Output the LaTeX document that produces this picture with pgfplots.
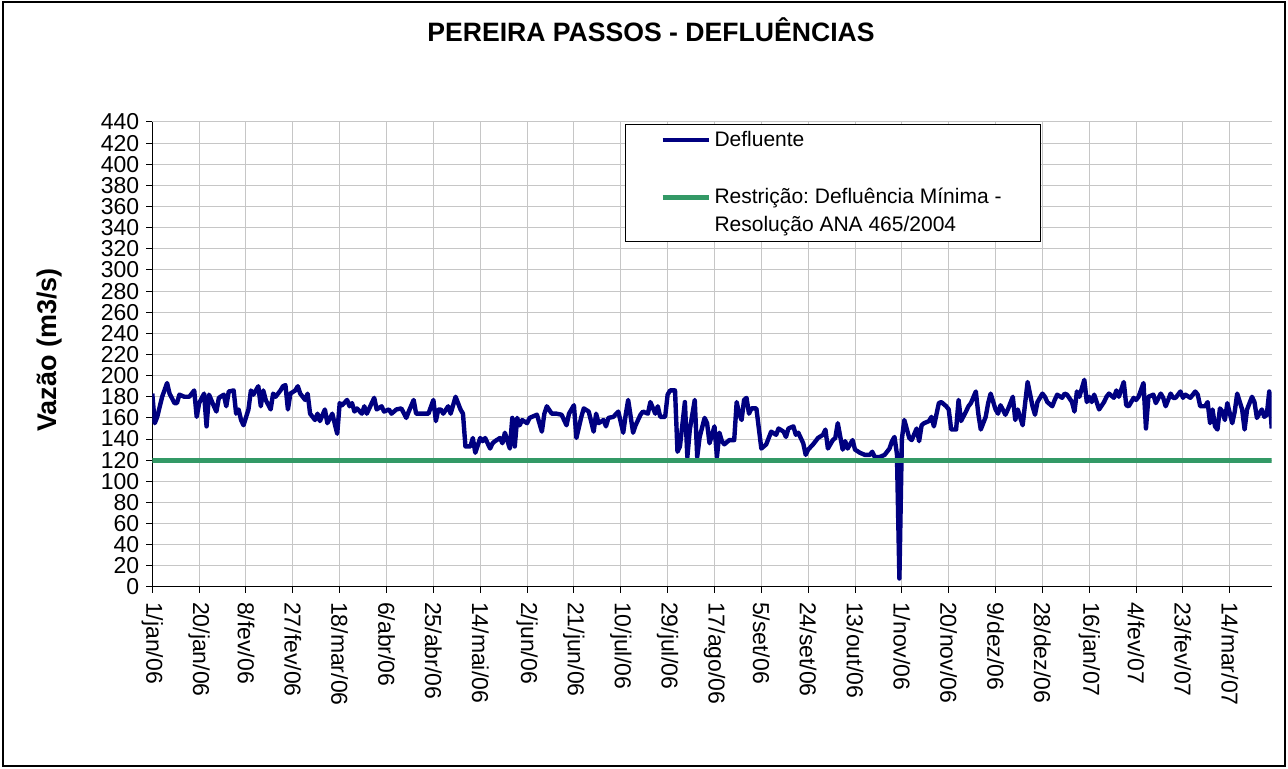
\documentclass[border=0pt]{standalone}
\usepackage{fontspec}
\setmainfont{Liberation Sans}
\usepackage{pgfplots}
\pgfplotsset{compat=1.18}
\definecolor{defl}{RGB}{0,0,128}
\definecolor{restr}{RGB}{51,153,102}
\frenchspacing
\begin{document}
\begin{tikzpicture}
\path (-76.15pt,-91pt) rectangle (567.85pt,293.5pt);
\draw[black, line width=0.6pt] (-74.65pt,-89.5pt) rectangle (566.35pt,292.5pt);
\begin{axis}[
  at={(0pt,0pt)}, anchor=south west,
  scale only axis, width=559.7pt, height=232.5pt,
  xmin=0, xmax=454, ymin=0, ymax=440,
  axis lines*=left,
  axis line style={black, line width=0.5pt},
  tick align=outside, major tick length=3pt,
  tick style={black, line width=0.5pt},
  xtick={0,19,...,437},
  xticklabels={1/jan/06,20/jan/06,8/fev/06,27/fev/06,18/mar/06,6/abr/06,25/abr/06,14/mai/06,2/jun/06,21/jun/06,10/jul/06,29/jul/06,17/ago/06,5/set/06,24/set/06,13/out/06,1/nov/06,20/nov/06,9/dez/06,28/dez/06,16/jan/07,4/fev/07,23/fev/07,14/mar/07},
  ytick={0,20,...,440},
  xticklabel style={rotate=-90, anchor=west},
  xticklabel shift=1pt,
  tick label style={font=\fontsize{11.5}{12}\selectfont},
  /pgf/number format/assume math mode=true,
  grid=major,
  major grid style={gray!45, line width=0.5pt},
  title={PEREIRA PASSOS - DEFLUÊNCIAS},
  every axis title/.style={at={(axis description cs:0.4455,1.1978)}, anchor=center, font=\bfseries\fontsize{13.3}{15}\selectfont},
  ylabel={Vazão (m3/s)},
  every axis y label/.style={at={(axis description cs:-0.0914,0.51)}, rotate=90, anchor=center, font=\bfseries\fontsize{13.5}{15}\selectfont},
  legend style={at={(axis description cs:0.4223,0.9957)}, anchor=north west, draw=black, line width=0.5pt,
    inner xsep=15pt, inner ysep=3.2pt, row sep=19pt, column sep=0pt,
    font=\fontsize{10.5}{12}\selectfont,
    nodes={inner sep=0pt, align=left}},
  legend cell align=left,
]
\addplot[defl, line width=2.2pt, line join=round,
  legend image code/.code={\path[draw=none] (-3.5pt,0pt) -- (26pt,0pt); \draw[defl, line width=2.2pt] (0pt,0pt) -- (23pt,0pt);}]
coordinates {
(0,183) (1,155) (2,161) (4,180) (6,193) (7,183) (9,174) (10,174) (11,182) (13,180)
(15,180) (17,186) (18,161) (19,174) (21,183) (22,152) (23,182) (25,171) (26,166) (27,179)
(29,182) (30,171) (31,185) (33,186) (34,164) (35,168) (36,158) (37,153) (39,168) (40,186)
(41,182) (43,190) (44,171) (45,186) (46,177) (48,168) (49,183) (50,180) (52,186) (53,190)
(54,191) (55,168) (56,183) (58,186) (59,190) (60,183) (62,177) (63,183) (64,164) (66,158)
(67,164) (68,157) (70,168) (71,155) (73,164) (75,145) (76,174) (77,172) (79,177) (80,171)
(81,174) (82,166) (83,169) (85,164) (86,171) (87,164) (89,174) (90,179) (91,168) (93,171)
(94,166) (96,168) (97,164) (99,168) (101,169) (103,160) (104,166) (106,177) (107,164) (109,164)
(111,164) (112,164) (114,177) (115,157) (116,168) (117,168) (118,164) (120,171) (121,164) (122,172)
(123,180) (125,168) (126,164) (127,133) (129,133) (130,141) (131,127) (133,141) (134,138) (135,141)
(137,131) (138,136) (139,138) (141,141) (142,136) (143,146) (145,131) (146,160) (147,133) (148,160)
(149,153) (150,158) (152,155) (153,160) (154,161) (156,163) (158,147) (159,164) (160,171) (162,164)
(164,164) (166,163) (168,153) (169,164) (171,172) (172,141) (174,161) (175,169) (177,166) (179,147)
(180,164) (181,155) (183,158) (184,152) (185,160) (187,161) (189,166) (191,146) (192,163) (193,177)
(195,146) (196,153) (198,163) (199,166) (201,164) (202,175) (204,164) (205,171) (206,161) (208,161)
(209,182) (210,186) (212,186) (213,128) (214,133) (216,175) (217,123) (218,149) (220,177) (221,123)
(222,142) (224,160) (225,155) (226,136) (228,152) (229,123) (230,146) (231,138) (232,135) (234,139)
(236,139) (237,175) (238,164) (239,158) (240,177) (241,179) (242,164) (243,169) (244,169) (245,169)
(246,150) (247,131) (249,135) (250,141) (251,147) (253,144) (254,150) (256,147) (257,142) (258,150)
(260,152) (261,144) (262,146) (264,136) (265,125) (266,130) (268,135) (269,138) (270,141) (272,144)
(273,149) (274,131) (276,139) (277,141) (278,155) (280,130) (281,138) (282,131) (284,139) (285,130)
(287,127) (289,125) (291,125) (292,128) (293,123) (295,123) (297,125) (299,131) (300,138) (301,142)
(302,126) (303,8) (304,140) (305,158) (307,141) (308,139) (310,150) (311,138) (312,153) (313,155)
(315,157) (316,161) (317,152) (319,174) (320,175) (322,171) (323,168) (324,149) (326,149) (327,177)
(328,157) (330,166) (331,171) (332,174) (334,185) (335,164) (336,149) (338,161) (339,174) (340,183)
(342,168) (343,164) (344,172) (346,163) (347,168) (349,180) (350,158) (351,168) (353,153) (354,174)
(355,194) (357,171) (358,163) (359,175) (361,183) (362,180) (363,175) (365,171) (366,177) (367,182)
(369,179) (370,183) (371,182) (373,175) (374,166) (375,185) (376,180) (378,196) (379,175) (380,180)
(381,175) (382,182) (384,168) (386,175) (387,180) (388,183) (390,179) (391,186) (392,180) (394,194)
(395,172) (396,171) (398,179) (399,177) (400,180) (402,193) (403,150) (404,180) (406,182) (407,174)
(409,183) (410,179) (411,171) (413,183) (414,179) (415,179) (417,185) (418,179) (419,182) (421,179)
(423,185) (424,182) (425,171) (427,171) (428,175) (429,155) (430,168) (431,152) (432,149) (433,169)
(434,166) (435,158) (436,174) (438,155) (439,166) (440,183) (442,168) (443,149) (444,168) (446,180)
(447,175) (448,160) (450,168) (451,161) (452,163) (453,185) (454,150)
};
\addlegendentry{Defluente}
\addplot[restr, line width=2.5pt,
  legend image code/.code={\path[draw=none] (-3.5pt,3.5pt) -- (26pt,3.5pt) (0pt,-15.3pt); \draw[restr, line width=2.5pt] (0pt,3.5pt) -- (23pt,3.5pt);}]
coordinates {(0,120) (454,120)};
\addlegendentry{\begin{tabular}{@{}l@{\hspace{4.5pt}}}Restrição: Defluência Mínima -\\[2pt]Resolução ANA 465/2004\end{tabular}}
\end{axis}
\end{tikzpicture}
\end{document}
